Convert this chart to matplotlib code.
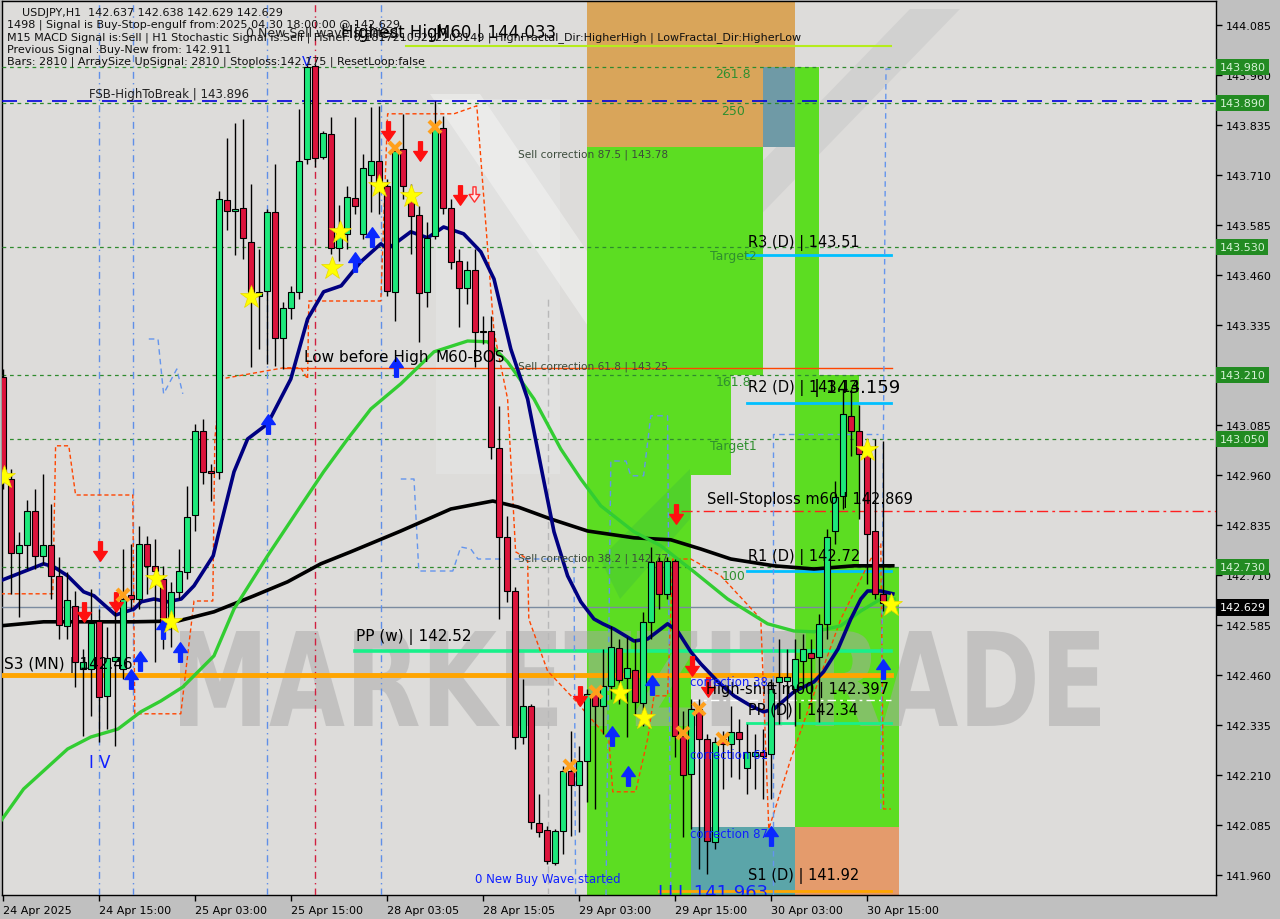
import numpy as np
import matplotlib.pyplot as plt
from matplotlib.patches import Rectangle, PathPatch, Polygon
from matplotlib.path import Path
from matplotlib.textpath import TextPath
from matplotlib.font_manager import FontProperties
from matplotlib.transforms import Affine2D, blended_transform_factory, IdentityTransform

# USDJPY H1 candles, bar 0 = 24 Apr 03:00 ... bar 111 = 30 Apr 18:00
opens = [143.205, 142.950, 142.765, 142.785, 142.870, 142.757, 142.785, 142.707, 142.582, 142.632,
         142.475, 142.475, 142.595, 142.407, 142.495, 142.475, 142.660, 142.650, 142.787, 142.732,
         142.700, 142.595, 142.667, 142.717, 142.860, 143.070, 142.970, 142.967, 143.647, 143.620,
         143.627, 143.542, 143.407, 143.420, 143.617, 143.302, 143.377, 143.417, 143.750, 143.982,
         143.755, 143.812, 143.527, 143.562, 143.652, 143.562, 143.710, 143.745, 143.682, 143.417,
         143.775, 143.650, 143.610, 143.417, 143.557, 143.827, 143.627, 143.495, 143.427, 143.472,
         143.317, 143.320, 143.027, 142.805, 142.670, 142.305, 142.382, 142.090, 142.072, 141.990,
         142.070, 142.220, 142.185, 142.245, 142.412, 142.382, 142.432, 142.527, 142.452, 142.472,
         142.390, 142.592, 142.745, 142.662, 142.745, 142.307, 142.212, 142.375, 142.300, 142.042,
         142.300, 142.287, 142.317, 142.227, 142.257, 142.267, 142.262, 142.442, 142.445, 142.425,
         142.495, 142.515, 142.505, 142.587, 142.820, 142.907, 143.107, 143.070, 143.030, 142.820,
         142.662, 142.637]
highs = [143.225, 142.975, 142.817, 142.897, 142.925, 142.962, 142.887, 142.755, 142.717, 142.670,
         142.525, 142.675, 142.625, 142.580, 142.632, 142.775, 142.787, 142.832, 142.807, 142.800,
         142.732, 142.692, 142.775, 142.932, 143.087, 143.100, 142.987, 143.670, 143.802, 143.840,
         143.850, 143.687, 143.525, 143.625, 143.737, 143.392, 143.432, 143.875, 143.987, 143.987,
         143.820, 143.855, 143.635, 143.682, 143.855, 143.762, 143.880, 143.882, 143.700, 143.782,
         143.862, 143.687, 143.632, 143.592, 143.895, 143.857, 143.650, 143.525, 143.495, 143.525,
         143.357, 143.357, 143.132, 142.857, 142.680, 142.450, 142.387, 142.162, 142.082, 142.075,
         142.232, 142.320, 142.282, 142.425, 142.425, 142.525, 142.582, 142.550, 142.555, 142.550,
         142.617, 142.780, 142.755, 142.755, 142.750, 142.370, 142.400, 142.400, 142.312, 142.305,
         142.320, 142.382, 142.350, 142.337, 142.312, 142.325, 142.450, 142.550, 142.525, 142.550,
         142.562, 142.550, 142.612, 142.825, 142.945, 143.175, 143.175, 143.135, 143.050, 143.050,
         143.045, 142.638]
lows = [142.925, 142.662, 142.605, 142.725, 142.725, 142.737, 142.650, 142.550, 142.550, 142.430,
        142.307, 142.357, 142.292, 142.325, 142.282, 142.450, 142.625, 142.625, 142.662, 142.492,
        142.525, 142.530, 142.650, 142.700, 142.820, 142.937, 142.895, 142.950, 143.572, 143.510,
        143.500, 143.230, 143.275, 143.237, 143.232, 143.225, 143.350, 143.400, 143.737, 143.730,
        143.750, 143.512, 143.495, 143.525, 143.612, 143.550, 143.617, 143.612, 143.407, 143.345,
        143.650, 143.512, 143.292, 143.380, 143.550, 143.612, 143.475, 143.330, 143.387, 143.230,
        143.287, 143.000, 142.600, 142.642, 142.275, 142.287, 142.075, 142.055, 141.987, 141.985,
        142.012, 142.057, 142.067, 142.142, 142.125, 142.312, 142.400, 142.387, 142.305, 142.362,
        142.332, 142.550, 142.625, 142.650, 142.255, 142.055, 142.075, 141.975, 141.962, 142.025,
        142.175, 142.205, 142.200, 142.162, 142.175, 142.150, 142.150, 142.337, 142.350, 142.332,
        142.425, 142.400, 142.342, 142.550, 142.787, 142.875, 143.007, 142.850, 142.687, 142.650,
        142.620, 142.629]
closes = [142.960, 142.765, 142.785, 142.870, 142.757, 142.785, 142.707, 142.585, 142.647, 142.492,
          142.492, 142.590, 142.405, 142.502, 142.505, 142.650, 142.650, 142.787, 142.732, 142.720,
          142.582, 142.667, 142.720, 142.855, 143.070, 142.967, 142.965, 143.650, 143.620, 143.625,
          143.552, 143.417, 143.417, 143.617, 143.302, 143.377, 143.417, 143.745, 143.980, 143.752,
          143.815, 143.527, 143.567, 143.655, 143.632, 143.727, 143.745, 143.682, 143.420, 143.770,
          143.682, 143.607, 143.415, 143.552, 143.825, 143.627, 143.492, 143.427, 143.472, 143.317,
          143.320, 143.030, 142.805, 142.670, 142.305, 142.382, 142.092, 142.067, 141.995, 142.070,
          142.220, 142.185, 142.245, 142.412, 142.382, 142.432, 142.530, 142.447, 142.477, 142.392,
          142.592, 142.742, 142.662, 142.745, 142.307, 142.210, 142.375, 142.300, 142.045, 142.292,
          142.287, 142.317, 142.300, 142.267, 142.267, 142.257, 142.425, 142.455, 142.455, 142.500,
          142.525, 142.502, 142.587, 142.805, 142.905, 143.112, 143.070, 143.012, 142.812, 142.662,
          142.640, 142.629]

# moving averages (bar index, price)
ma_fast_x = [0, 5.1, 6.4, 8.1, 10.1, 11.4, 14.1, 16.4, 17.3, 18.9, 20.6, 22.3, 23.9, 26.3, 26.9, 28.9,
             30.6, 33.1, 36, 38.1, 40.1, 42.3, 44.75, 47.25, 48.1, 51, 53.1, 55.1, 57.6, 59.75, 61.4,
             63.5, 65.6, 67.25, 68.9, 70.6, 72.25, 73.9, 75, 76.4, 78.9, 80.6, 83.1, 84.4, 86, 87.25,
             89.4, 91.4, 93.5, 95.1, 96.4, 98.9, 101.4, 102.6, 104.4, 106, 107.25, 108.1, 109.75, 111.25]
ma_fast_y = [142.698, 142.738, 142.730, 142.708, 142.668, 142.658, 142.610, 142.625, 142.643, 142.650,
             142.643, 142.650, 142.683, 142.758, 142.808, 142.968, 143.050, 143.088, 143.200, 143.350,
             143.418, 143.433, 143.493, 143.538, 143.525, 143.568, 143.553, 143.580, 143.563, 143.518,
             143.450, 143.275, 143.150, 142.983, 142.818, 142.708, 142.643, 142.600, 142.588, 142.575,
             142.545, 142.550, 142.588, 142.568, 142.518, 142.488, 142.443, 142.408, 142.383, 142.368,
             142.375, 142.418, 142.443, 142.468, 142.525, 142.600, 142.650, 142.670, 142.670, 142.663]
ma_mid_x = [-0.25, 2.6, 8.1, 11, 14.4, 17.25, 19.75, 22.5, 24.75, 26.4, 28.9, 33.1, 37.25, 40.1, 43.1,
            46, 49.75, 53.9, 58.1, 60.6, 63.1, 66.4, 69.75, 72.25, 74.75, 78.9, 82.25, 86.4, 90.6,
            95.6, 98.9, 101.4, 104.75, 107.25, 109.75, 111.4]
ma_mid_y = [142.095, 142.175, 142.275, 142.305, 142.325, 142.368, 142.395, 142.430, 142.475, 142.508,
            142.625, 142.758, 142.883, 142.968, 143.050, 143.125, 143.188, 143.268, 143.295, 143.293,
            143.243, 143.150, 143.025, 142.950, 142.883, 142.818, 142.783, 142.718, 142.650, 142.588,
            142.570, 142.568, 142.583, 142.620, 142.650, 142.650]
ma_slow_x = [-0.25, 5.1, 16.4, 21.9, 26.4, 31.4, 35.6, 39.75, 43.5, 49.75, 56, 61.25, 64.4, 68.5,
             73.1, 78.9, 83.5, 87.25, 91, 96.4, 101.4, 106.4, 111.25]
ma_slow_y = [142.583, 142.593, 142.593, 142.595, 142.618, 142.658, 142.693, 142.738, 142.768, 142.820,
             142.875, 142.895, 142.880, 142.850, 142.820, 142.803, 142.798, 142.775, 142.750, 142.733,
             142.725, 142.733, 142.733]

# dashed step channels
orange_x = [-0.25, 6.25, 6.6, 8.25, 9.1, 16.25, 16.5, 22.25, 23.9, 26.25, 26.5, 27.25, 35.1, 37.25,
            38.1, 38.25, 47.25, 48.1, 56.4, 59.25, 61.4, 63.1, 64.1, 65.6, 65.75, 68.1, 71.4, 75.75,
            76.25, 79.1, 80.6, 81.4, 83.1, 83.75, 86, 89.75, 94.75, 95.75, 98.5, 101.6, 104.75,
            108.5, 109.75, 110.1, 111]
orange_y = [142.663, 142.663, 143.033, 143.033, 142.91, 142.91, 142.363, 142.363, 142.645, 142.645,
            143.05, 143.2, 143.228, 143.228, 143.2, 143.395, 143.395, 143.863, 143.863, 143.883,
            143.318, 143.15, 142.768, 142.75, 142.6, 142.47, 142.4, 142.3, 142.168, 142.168, 142.3,
            142.408, 142.408, 142.75, 142.75, 142.708, 142.6, 142.075, 142.25, 142.425, 142.6,
            142.75, 142.788, 142.125, 142.125]
blue_steps = [
    ([49.75, 51.4, 52, 56.25, 57.25, 58.5, 59.4, 71.4, 71.6], [142.95, 142.95, 142.72, 142.72, 142.78, 142.775, 142.75, 142.75, 141.91]),
    ([75.4, 76, 77.9, 78.5, 80.1, 81, 83.1, 83.5], [141.91, 142.995, 142.995, 142.958, 142.958, 143.108, 143.108, 141.91]),
    ([96.25, 96.25, 109.4], [141.91, 143.063, 143.063]),
    ([109.75, 110.4, 111], [142.125, 143.975, 143.975]),
    ([18.25, 19.4, 20.1, 21.75, 22.5], [143.30, 143.30, 143.163, 143.225, 143.163]),
]
vlines_blue = [12, 16.25, 33, 47.25]
vlines_red = [39]

# levels
green_levels = [143.980, 143.890, 143.530, 143.210, 143.050, 142.730]
price_now = 142.629
fsb_high = 143.896
m60_high = 144.033
bos_level = 143.228
stoploss = 142.869
pp_w, s3_mn = 142.52, 142.46
r3, r2, r1, pp_d, s1 = 143.51, 143.14, 142.72, 142.34, 141.92
high_shift = 142.397

# signal markers (bar, price)
down_x = [12.1, 10.1, 14.1, 48.1, 52.1, 57.1, 84.1, 72.1, 86.1, 88.1]
down_y = [142.77, 142.618, 142.643, 143.82, 143.77, 143.66, 142.863, 142.408, 142.483, 142.43]
up_x = [17.1, 22.1, 20, 16, 33.1, 49.1, 46.1, 44, 81.1, 76.1, 78.1, 96, 110]
up_y = [142.495, 142.518, 142.575, 142.45, 143.088, 143.23, 143.555, 143.493, 142.435, 142.308,
        142.208, 142.058, 142.475]
star_x = [0.1, 19.1, 21, 31, 41.1, 42.1, 47, 51, 77.1, 80.1, 108, 111]
star_y = [142.955, 142.70, 142.593, 143.405, 143.478, 143.568, 143.683, 143.658, 142.415, 142.353,
          143.023, 142.635]
cross_x = [15, 49, 54, 70.9, 74.1, 85, 87, 90]
cross_y = [142.66, 143.778, 143.83, 142.233, 142.418, 142.315, 142.375, 142.30]

tick_bars = [0, 12, 24, 36, 48, 60, 72, 84, 96, 108]
tick_labels = ["24 Apr 2025", "24 Apr 15:00", "25 Apr 03:00", "25 Apr 15:00", "28 Apr 03:05",
               "28 Apr 15:05", "29 Apr 03:00", "29 Apr 15:00", "30 Apr 03:00", "30 Apr 15:00"]
price_ticks = [144.085, 143.960, 143.835, 143.710, 143.585, 143.460, 143.335, 143.210, 143.085,
               142.960, 142.835, 142.710, 142.585, 142.460, 142.335, 142.210, 142.085, 141.960]

plt.rcParams['font.family'] = 'DejaVu Sans'
fig = plt.figure(figsize=(12.8, 9.2), dpi=100, facecolor='#c0c0c0')
ax = fig.add_axes([2/1280, 24/920, 1214/1280, 894/920])
ax.set_facecolor('#dddcda')
XMAX = 151.65
ax.set_xlim(-0.1, XMAX)
ax.set_ylim(141.91, 144.145)

# faint logo in the background (screen pixels, top-left origin)
def screen_poly(pts, **kw):
    p = Polygon([(px, 920 - py) for px, py in pts], closed=True, transform=IdentityTransform(), **kw)
    ax.add_patch(p)

screen_poly([(430, 95), (480, 95), (640, 330), (590, 330)], fc='white', ec='none', alpha=0.35, zorder=0.5)
screen_poly([(600, 330), (650, 330), (960, 10), (910, 10)], fc='#c4c4c4', ec='none', alpha=0.45, zorder=0.5)
screen_poly([(436, 100), (560, 100), (560, 475), (436, 475)], fc='#e6e6e6', ec='none', alpha=0.5, zorder=0.4)

# coloured zones
lime = '#5cdd22'
zones = [(73, 99, 143.78, 144.2, '#d9a55a'),
         (95, 99, 143.78, 143.98, '#6f9aa6'),
         (73, 86, 141.8, 143.78, lime),
         (86, 95, 143.21, 143.78, lime),
         (86, 91, 142.96, 143.21, lime),
         (99, 102, 143.21, 143.98, lime),
         (99, 107, 142.08, 143.21, lime),
         (107, 112, 142.08, 142.73, lime),
         (86, 99, 141.8, 142.08, '#5ba5a9'),
         (99, 112, 141.8, 142.08, '#e49b6c')]
for x0, x1, y0, y1, col in zones:
    ax.add_patch(Rectangle((x0, y0), x1 - x0, y1 - y0, color=col, lw=0, zorder=1))
screen_poly([(600, 560), (690, 470), (690, 520), (620, 600)], fc='#3fbf3a', ec='none', alpha=0.35, zorder=1.1)

# watermark
fp = FontProperties(family='DejaVu Sans', weight='bold')
tp = TextPath((0, 0), "MARKETZITRADE", size=100, prop=fp)
bb = tp.get_extents()
sx = (1100 - 180) / bb.width
sy = (727 - 632) / bb.height
wm = PathPatch(tp, fc='#a8a8a8', ec='none', alpha=0.5, zorder=2)
wm.set_transform(Affine2D().scale(sx, sy).translate(180 - bb.x0 * sx, 920 - 727 - bb.y0 * sy))
ax.add_patch(wm)

# horizontal levels
for lv in green_levels:
    ax.axhline(lv, color='#2e8b2e', lw=0.9, ls=(0, (3, 3)), zorder=3)
ax.axhline(fsb_high, color='#0000dd', lw=1.2, ls=(0, (9, 6)), zorder=3)
ax.axhline(price_now, color='#7b8ba0', lw=1, zorder=3)
ax.plot([50.4, 111], [m60_high] * 2, color='#b5ec1c', lw=1.5, zorder=3)
ax.plot([35.1, 111.1], [bos_level] * 2, color='#ff4500', lw=1, zorder=3)
ax.plot([84.75, XMAX], [stoploss] * 2, color='#ff2020', lw=1, ls=(0, (8, 3, 2, 3)), zorder=3)
ax.plot([86, 111], [high_shift] * 2, color='white', lw=1, ls=(0, (6, 3, 2, 3)), zorder=3)
for lv in [r3, r2, r1]:
    ax.plot([93, 111], [lv] * 2, color='#00bfff', lw=2, zorder=4)
ax.plot([93, 111], [pp_d] * 2, color='#18f08a', lw=2, zorder=4)
ax.plot([44, 111], [pp_w] * 2, color='#18f08a', lw=2.6, zorder=4)
ax.plot([-1, 111], [s3_mn] * 2, color='#ffa500', lw=3.5, zorder=4)
ax.plot([82, 111], [s1] * 2, color='#ffa500', lw=2, zorder=4)

for vx in vlines_blue:
    ax.axvline(vx, color='#5f8fe8', lw=1, ls=(0, (5, 3, 1, 3)), zorder=3)
for vx in vlines_red:
    ax.axvline(vx, color='#d02040', lw=1, ls=(0, (5, 3, 1, 3)), zorder=3)
ax.axvline(68.1, ymax=0.67, color='#b8b8b8', lw=1, ls=(0, (5, 3)), zorder=3)

ax.plot(orange_x, orange_y, color='#ff4500', lw=1, ls=(0, (3, 2)), zorder=4)
for bx, by in blue_steps:
    ax.plot(bx, by, color='#6495ed', lw=1, ls=(0, (4, 3)), zorder=4)

# moving averages
ax.plot(ma_slow_x, ma_slow_y, color='black', lw=2.6, zorder=5)
ax.plot(ma_mid_x, ma_mid_y, color='#32cd32', lw=2.4, zorder=5)
ax.plot(ma_fast_x, ma_fast_y, color='#000080', lw=2.6, zorder=5)

# candles
o, h, l, c = map(np.array, (opens, highs, lows, closes))
x = np.arange(len(o))
up = c >= o
lo = np.minimum(o, c)
hgt = np.maximum(np.abs(c - o), 0.004)
ax.vlines(x, l, h, color='black', lw=1, zorder=6)
ax.bar(x[up], hgt[up], bottom=lo[up], width=0.72, color='#1de97b', edgecolor='black', linewidth=0.8, zorder=7)
ax.bar(x[~up], hgt[~up], bottom=lo[~up], width=0.72, color='#dc143c', edgecolor='black', linewidth=0.8, zorder=7)

# signal markers: block arrows
arrow_dn = Path([(-0.2, 1), (0.2, 1), (0.2, 0.0), (0.7, 0.0), (0, -1), (-0.7, 0.0), (-0.2, 0.0), (-0.2, 1)],
                [Path.MOVETO] + [Path.LINETO] * 6 + [Path.CLOSEPOLY])
arrow_up = Path([(vx, -vy) for vx, vy in arrow_dn.vertices], arrow_dn.codes)
ax.plot(down_x, down_y, ls='none', marker=arrow_dn, ms=14, color='#ff1010', mec='#ff1010', zorder=8)
ax.plot(up_x, up_y, ls='none', marker=arrow_up, ms=14, color='#0a28ff', mec='#0a28ff', zorder=8)
ax.plot([58.9], [143.663], ls='none', marker=arrow_dn, ms=11, mfc='#ffe8e8', mec='#ff3030', mew=1, zorder=8)
ax.plot(star_x, star_y, ls='none', marker='*', ms=17, color='#ffff00', mec='#e8d800', mew=0.5, zorder=8)
ax.plot(cross_x, cross_y, ls='none', marker='x', ms=8, mew=3, color='#ffa01c', zorder=8)
ax.text(38, 143.995, 'V', color='#0a20ff', fontsize=10, ha='center', va='center', zorder=8)

# chart labels
def lab(bx, py, s, col='black', fs=10.5, ha='left', **kw):
    ax.text(bx, py, s, color=col, fontsize=fs, ha=ha, va='center', zorder=9, **kw)

lab(10.75, 143.915, 'FSB-HighToBreak | 143.896', '#202020', 8.5)
lab(30.4, 144.0675, '0 New Sell wave started', '#202020', 9)
lab(42.25, 144.0675, 'Highest High', 'black', 12)
lab(54.1, 144.0675, 'M60 | 144.033', 'black', 12)
for py, s in [(143.7625, 'Sell correction 87.5 | 143.78'), (143.2325, 'Sell correction 61.8 | 143.25'),
              (142.7525, 'Sell correction 38.2 | 142.77')]:
    lab(64.4, py, s, '#3b4b3b', 7.6)
for py, s in [(143.9625, '261.8'), (143.87, '250'), (143.1925, '161.8'), (143.51, 'Target2'),
              (143.0325, 'Target1'), (142.7075, '100')]:
    lab(91.3, py, s, '#2f8f2f', 9, ha='center')
lab(93.1, 143.5425, 'R3 (D) | 143.51')
lab(93.1, 143.18, 'R2 (D) | 143.14')
lab(101.4, 143.18, '| 143.159', 'black', 13)
lab(88, 142.90, 'Sell-Stoploss m60 | 142.869')
lab(93.1, 142.7575, 'R1 (D) | 142.72')
lab(87.9, 142.425, 'High-shift m60 | 142.397')
lab(93.1, 142.3725, 'PP (D) | 142.34')
lab(93.1, 141.96, 'S1 (D) | 141.92')
lab(44.1, 142.5575, 'PP (w) | 142.52', 'black', 11)
lab(0.1, 142.4875, 'S3 (MN) | 142.46', 'black', 11)
lab(37.6, 143.2575, 'Low before High', 'black', 11)
lab(54.1, 143.2575, 'M60-BOS', 'black', 11)
lab(85.9, 142.4425, 'correction 38', '#1020ff', 8.5)
lab(85.9, 142.2625, 'correction 61', '#1020ff', 8.5)
lab(85.9, 142.0625, 'correction 87', '#1020ff', 8.5)
lab(59, 141.95, '0 New Buy Wave started', '#1020ff', 8.5)
lab(10.75, 142.2425, 'I V', '#1020ff', 12)
ax.text(81.9, 141.94, 'LLL 141.963', color='#1020ff', fontsize=13, ha='left', va='top', zorder=9, clip_on=True)

# header
header = [(22, 13, 'USDJPY,H1  142.637 142.638 142.629 142.629'),
          (7, 25, '1498 | Signal is Buy-Stop-engulf from:2025.04.30 18:00:00 @ 142.629'),
          (7, 38, 'M15 MACD Signal is:Sell | H1 Stochastic Signal is:Sell | Fisher: 0.18172105212203149 | HighFractal_Dir:HigherHigh | LowFractal_Dir:HigherLow'),
          (7, 50, 'Previous Signal :Buy-New from: 142.911'),
          (7, 62, 'Bars: 2810 | ArraySize UpSignal: 2810 | Stoploss:142.175 | ResetLoop:false')]
for hx, hy, s in header:
    fig.text(hx / 1280, 1 - hy / 920, s, fontsize=8, color='#101010', va='center', zorder=10)

# axes
ax.yaxis.tick_right()
ax.set_yticks(price_ticks)
# the 143.210 tick text sits under the green 143.210 label, as on the terminal
ax.set_yticklabels(['' if t in green_levels else f'{t:.3f}' for t in price_ticks])
ax.tick_params(axis='y', length=4, width=1, pad=3, labelsize=8, direction='out')
ax.set_xticks(tick_bars)
ax.set_xticklabels(tick_labels, ha='left')
ax.tick_params(axis='x', length=4, width=1, pad=3, labelsize=8, direction='out')
for sp in ax.spines.values():
    sp.set_color('black')
    sp.set_linewidth(1)

tr = blended_transform_factory(ax.transAxes, ax.transData)
for lv in green_levels:
    ax.text(1.0028, lv, f'{lv:.3f}', transform=tr, color='#d6f2d6', fontsize=8, ha='left', va='center',
            bbox=dict(boxstyle='square,pad=0.3', fc='#228b22', ec='none'), clip_on=False, zorder=10)
ax.text(1.0028, price_now, f'{price_now:.3f}', transform=tr, color='white', fontsize=8, ha='left',
        va='center', bbox=dict(boxstyle='square,pad=0.3', fc='black', ec='none'), clip_on=False, zorder=10)

fig.savefig('out.png', dpi=100, facecolor=fig.get_facecolor())
